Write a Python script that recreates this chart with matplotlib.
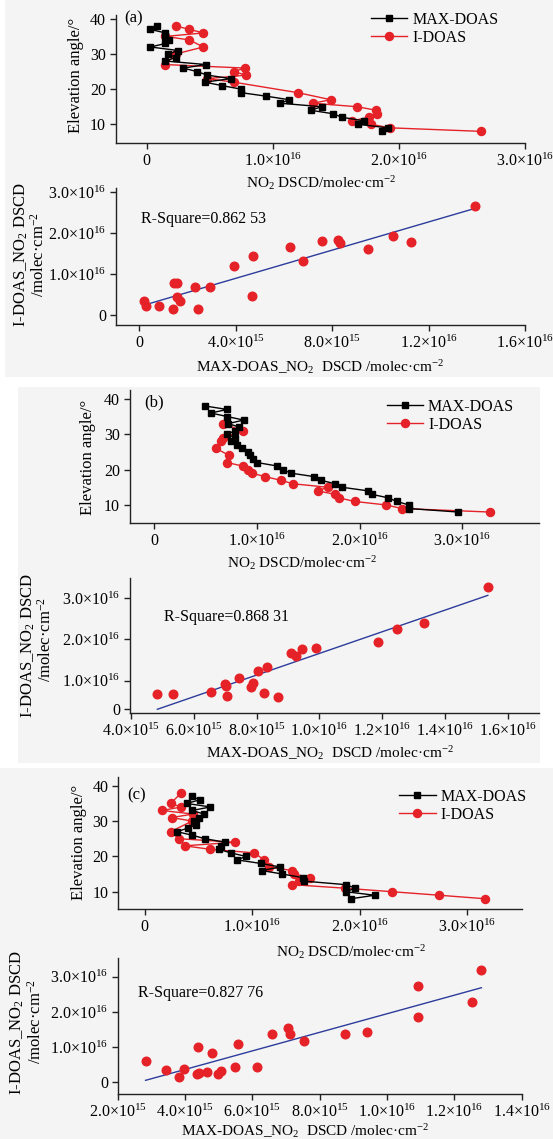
import matplotlib
matplotlib.use("Agg")
import matplotlib.pyplot as plt
from matplotlib.patches import Rectangle
from matplotlib.lines import Line2D
import numpy as np

plt.rcParams['font.family'] = ['Liberation Serif', 'DejaVu Serif']
plt.rcParams['mathtext.fontset'] = 'custom'
plt.rcParams['mathtext.rm'] = 'Liberation Serif'
plt.rcParams['mathtext.it'] = 'Liberation Serif:italic'
plt.rcParams['mathtext.bf'] = 'Liberation Serif:bold'

# ---- panel (a) profile, DSCD in 1e16 molec/cm2
elev_max_a = [8, 9, 10, 11, 12, 13, 14, 15, 16, 17, 18, 19, 20, 21, 22, 23, 24, 25, 26,
              27, 28, 29, 30, 31, 32, 33, 34, 35, 36, 37, 38]
max_a = [1.87, 1.91, 1.68, 1.72, 1.55, 1.48, 1.30, 1.39, 1.06, 1.13, 0.95, 0.75, 0.75, 0.60,
         0.46, 0.67, 0.48, 0.40, 0.29, 0.47, 0.15, 0.23, 0.17, 0.25, 0.03, 0.15, 0.18, 0.15,
         0.15, 0.03, 0.08]
elev_i_a = [8, 9, 10, 11, 12, 13, 14, 15, 16, 17, 19, 22, 23, 24, 25, 26, 27, 30, 32, 34,
            35, 36, 37, 38]
idoas_a = [2.65, 1.93, 1.78, 1.63, 1.76, 1.83, 1.82, 1.67, 1.32, 1.46, 1.20, 0.69, 0.48,
           0.79, 0.69, 0.78, 0.15, 0.23, 0.45, 0.34, 0.15, 0.45, 0.34, 0.23]

# ---- panel (a) scatter: x in 1e15, y in 1e16
sc_x_a = [13.93, 10.53, 11.26, 9.49, 7.58, 8.25, 8.31, 6.23, 6.79, 4.72, 3.92, 4.69, 2.92,
          2.30, 1.44, 1.58, 1.54, 1.70, 2.45, 1.39, 0.83, 0.29, 0.19]
sc_y_a = [2.65, 1.94, 1.78, 1.62, 1.81, 1.83, 1.75, 1.67, 1.32, 1.45, 1.20, 0.47, 0.68,
          0.68, 0.79, 0.77, 0.45, 0.33, 0.14, 0.14, 0.23, 0.22, 0.33]
fit_a = (0.172, 0.207)
r2_a = "R-Square=0.862 53"

# ---- panel (b) profile
elev_max_b = [8, 9, 10, 11, 12, 13, 14, 15, 16, 17, 18, 19, 20, 21, 22, 23, 24, 25, 26,
              27, 28, 29, 30, 31, 32, 33, 34, 35, 36, 37, 38]
max_b = [2.96, 2.48, 2.48, 2.36, 2.28, 2.12, 2.08, 1.83, 1.76, 1.62, 1.56, 1.33, 1.25, 1.20,
         1.00, 0.96, 0.93, 0.91, 0.85, 0.81, 0.75, 0.79, 0.71, 0.79, 0.83, 0.72, 0.87, 0.71,
         0.55, 0.71, 0.49]
elev_i_b = [8, 9, 10, 11, 12, 13, 14, 15, 16, 17, 18, 19, 20, 21, 22, 24, 26, 28, 29, 31, 33]
idoas_b = [3.27, 2.41, 2.26, 1.95, 1.80, 1.76, 1.59, 1.69, 1.35, 1.23, 1.08, 0.95, 0.91,
           0.86, 0.71, 0.73, 0.60, 0.65, 0.67, 0.86, 0.67]

sc_x_b = [15.35, 13.32, 12.45, 11.87, 9.88, 9.45, 9.24, 9.10, 8.33, 8.04, 7.43, 6.99, 7.02,
          7.89, 7.83, 8.24, 8.68, 7.06, 6.55, 5.34, 4.85]
sc_y_b = [3.27, 2.41, 2.26, 1.94, 1.79, 1.76, 1.59, 1.68, 1.34, 1.23, 1.06, 0.91, 0.86,
          0.94, 0.85, 0.70, 0.61, 0.64, 0.72, 0.67, 0.67]
fit_b = (0.263, -0.968)
r2_b = "R-Square=0.868 31"

# ---- panel (c) profile
elev_max_c = [8, 9, 10, 11, 12, 13, 14, 15, 16, 17, 18, 19, 20, 21, 22, 23, 24, 25, 26,
              27, 28, 29, 30, 31, 32, 33, 34, 35, 36, 37]
max_c = [1.92, 2.14, 1.87, 1.96, 1.87, 1.48, 1.47, 1.28, 1.09, 1.26, 1.08, 0.86, 0.94, 0.80,
         0.69, 0.71, 0.75, 0.56, 0.44, 0.30, 0.40, 0.48, 0.46, 0.50, 0.55, 0.44, 0.61, 0.39,
         0.51, 0.44]
elev_i_c = [8, 9, 10, 11, 12, 13, 14, 15, 16, 17, 19, 21, 22, 23, 24, 25, 27, 30, 31, 32,
            33, 34, 35, 38]
idoas_c = [3.17, 2.74, 2.30, 1.86, 1.37, 1.44, 1.54, 1.39, 1.37, 1.16, 1.11, 1.02, 0.61,
           0.37, 0.84, 0.32, 0.24, 0.44, 0.25, 0.45, 0.16, 0.34, 0.24, 0.34]

sc_x_c = [12.80, 10.91, 12.53, 10.93, 7.07, 7.13, 6.58, 7.52, 8.75, 9.41, 5.56, 4.39, 4.81,
          2.83, 3.44, 3.98, 3.83, 4.36, 4.43, 4.64, 4.98, 5.06, 5.48, 6.13]
sc_y_c = [3.18, 2.74, 2.28, 1.86, 1.54, 1.36, 1.38, 1.17, 1.37, 1.43, 1.10, 1.01, 0.83,
          0.62, 0.35, 0.38, 0.16, 0.24, 0.26, 0.30, 0.23, 0.33, 0.45, 0.45]
fit_c = (0.2636, -0.688)
r2_c = "R-Square=0.827 76"

prof_ticks = [0, 1, 2, 3]
prof_labels = ["0", "1.0×10$^{16}$", "2.0×10$^{16}$", "3.0×10$^{16}$"]
elev_ticks = [10, 20, 30, 40]
sc_yticks = [0, 1, 2, 3]
sc_ylabels = ["0", "1.0×10$^{16}$", "2.0×10$^{16}$", "3.0×10$^{16}$"]
sc_yticks_b = [0.32, 1, 2, 3]
sc_xticks_a = [0, 4, 8, 12, 16]
sc_xlabels_a = ["0", "4.0×10$^{15}$", "8.0×10$^{15}$", "1.2×10$^{16}$", "1.6×10$^{16}$"]
sc_xticks_b = [4, 6, 8, 10, 12, 14, 16]
sc_xlabels_b = ["4.0×10$^{15}$", "6.0×10$^{15}$", "8.0×10$^{15}$", "1.0×10$^{16}$",
                "1.2×10$^{16}$", "1.4×10$^{16}$", "1.6×10$^{16}$"]
sc_xticks_c = [2, 4, 6, 8, 10, 12, 14]
sc_xlabels_c = ["2.0×10$^{15}$", "4.0×10$^{15}$", "6.0×10$^{15}$", "8.0×10$^{15}$",
                "1.0×10$^{16}$", "1.2×10$^{16}$", "1.4×10$^{16}$"]

W, H = 553, 1139
RED = '#e52228'
BLUE = '#2d3c9c'
BG = '#f4f4f4'
TICK_FS = 11.5
LAB_FS = 11
YLAB_FS = 12

fig = plt.figure(figsize=(W / 100, H / 100), dpi=100)


def box(l, t, r, b):
    return [l / W, 1 - b / H, (r - l) / W, (b - t) / H]


def ftext(x, y, s, **kw):
    fig.text(x / W, 1 - y / H, s, **kw)


for (l, t, r, b) in [(5, 0, 553, 376.7), (17.7, 386.7, 540, 762.7), (0, 768.3, 553, 1139)]:
    fig.patches.append(Rectangle((l / W, 1 - b / H), (r - l) / W, (b - t) / H,
                                 transform=fig.transFigure, facecolor=BG, edgecolor='none',
                                 zorder=-10))


def style(ax):
    ax.set_facecolor('none')
    for s in ['top', 'right']:
        ax.spines[s].set_visible(False)
    for s in ['left', 'bottom']:
        ax.spines[s].set_linewidth(1.0)
        ax.spines[s].set_color('#222222')
    ax.tick_params(direction='out', length=4, width=1.0, labelsize=TICK_FS, pad=3,
                   color='#222222')


def profile(rect, xlim, ylim, ex, xm, ei, xi, tag, tagpos, legpos, xlabpos, ylabpos):
    ax = fig.add_axes(box(*rect))
    style(ax)
    ax.plot(xm, ex, '-s', color='black', lw=1.0, ms=5, zorder=3)
    ax.plot(xi, ei, '-o', color=RED, mfc=RED, mec=RED, lw=1.0, ms=5.8, zorder=2)
    ax.set_xlim(*xlim)
    ax.set_ylim(*ylim)
    ax.set_xticks(prof_ticks)
    ax.set_xticklabels(prof_labels)
    ax.set_yticks(elev_ticks)
    handles = [Line2D([], [], color='black', marker='s', ms=5, lw=1.0),
               Line2D([], [], color=RED, marker='o', ms=5.8, lw=1.0)]
    ax.legend(handles, ["MAX-DOAS", "I-DOAS"], loc='upper left',
              bbox_to_anchor=(legpos[0] / W, 1 - legpos[1] / H),
              bbox_transform=fig.transFigure, frameon=False, fontsize=11.5,
              handlelength=2.3, handletextpad=0.3, labelspacing=0.1, borderpad=0,
              borderaxespad=0)
    ftext(tagpos[0], tagpos[1], tag, fontsize=12, ha='left', va='center')
    ftext(xlabpos[0], xlabpos[1], "NO$_2$ DSCD/molec·cm$^{-2}$", fontsize=LAB_FS,
          ha='center', va='center')
    ftext(ylabpos[0], ylabpos[1], "Elevation angle/°", fontsize=YLAB_FS, rotation=90,
          ha='center', va='center')
    return ax


def scatter(rect, xlim, ylim, sx, sy, fit, r2, xt, xl, yt, r2pos, xlabpos, yl1, yl2):
    ax = fig.add_axes(box(*rect))
    style(ax)
    ax.plot(sx, sy, 'o', color=RED, ms=6.2, zorder=3)
    xx = np.array([min(sx), max(sx)])
    ax.plot(xx, fit[0] * xx + fit[1], '-', color=BLUE, lw=1.0, zorder=2)
    ax.set_xlim(*xlim)
    ax.set_ylim(*ylim)
    ax.set_xticks(xt)
    ax.set_xticklabels(xl)
    ax.set_yticks(yt)
    ax.set_yticklabels(sc_ylabels)
    ftext(r2pos[0], r2pos[1], r2, fontsize=11.5, ha='left', va='center')
    ftext(xlabpos[0], xlabpos[1], "MAX-DOAS_NO$_2$  DSCD /molec·cm$^{-2}$", fontsize=LAB_FS,
          ha='center', va='center')
    ftext(yl1[0], yl1[1], "I-DOAS_NO$_2$ DSCD", fontsize=YLAB_FS, rotation=90,
          ha='center', va='center')
    ftext(yl2[0], yl2[1], "/molec·cm$^{-2}$", fontsize=YLAB_FS, rotation=90,
          ha='center', va='center')
    return ax


# (a)
profile((115.8, 15, 525, 143.3), (-0.244, 3.0), (4.6, 41.1), elev_max_a, max_a, elev_i_a,
        idoas_a, "(a)", (124, 18), (370.7, 12), (321, 183), (76, 75))
scatter((115.8, 188, 525, 325), (-0.98, 16), (-0.245, 3.1), sc_x_a, sc_y_a, fit_a, r2_a,
        sc_xticks_a, sc_xlabels_a, sc_yticks, (141, 219), (319.5, 367), (21, 255), (39, 255))

# (b)
profile((129.6, 390, 539.4, 523.3), (-0.24, 3.75), (4.82, 42.5), elev_max_b, max_b,
        elev_i_b, idoas_b, "(b)", (144.7, 402), (386.5, 399), (302, 563), (88, 457))
scatter((130, 578, 539.4, 713.3), (3.98, 16.99), (0.21, 3.49), sc_x_b, sc_y_b, fit_b, r2_b,
        sc_xticks_b, sc_xlabels_b, sc_yticks_b, (164, 617), (330, 753), (28, 646), (46, 640))

# (c)
profile((118.3, 777.3, 521.8, 909), (-0.247, 3.51), (5.1, 42.4), elev_max_c, max_c,
        elev_i_c, idoas_c, "(c)", (127, 795), (399, 789), (351, 952), (79.4, 842))
scatter((117.6, 958, 521.8, 1094), (2, 14), (-0.33, 3.53), sc_x_c, sc_y_c, fit_c, r2_c,
        sc_xticks_c, sc_xlabels_c, sc_yticks, (137.7, 993), (305, 1131), (17.7, 1023),
        (35.3, 1022))

fig.savefig("out.png", dpi=100)
